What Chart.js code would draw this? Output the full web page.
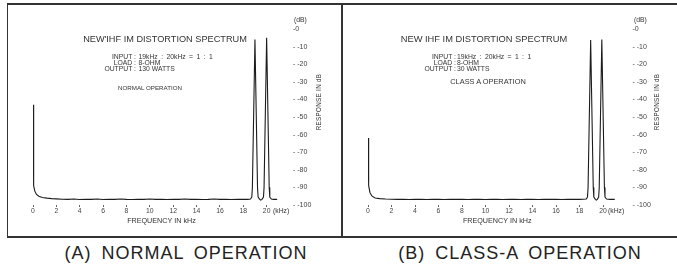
<!DOCTYPE html>
<html><head><meta charset="utf-8">
<script src="https://cdn.jsdelivr.net/npm/chart.js@4.4.0/dist/chart.umd.min.js"></script>
<style>
html,body{margin:0;padding:0;background:#fff;}
#page{position:relative;width:677px;height:267px;overflow:hidden;background:#fff;font-family:"Liberation Sans",Arial,sans-serif;color:#333;}
.ln{position:absolute;background:#333;}
canvas{position:absolute;}
.t{position:absolute;white-space:nowrap;line-height:1;}
.c{transform:translate(-50%,-50%);}
.r{transform:translate(-100%,-50%);text-align:right;}
.l{transform:translate(0,-50%);}
.rot{transform:translate(-50%,-50%) rotate(-90deg);}
</style></head><body>
<div id="page">
  <div class="ln" style="left:7px;top:3px;width:670px;height:1.5px"></div>
  <div class="ln" style="left:7px;top:236px;width:670px;height:1.5px"></div>
  <div class="ln" style="left:6.5px;top:3px;width:1.5px;height:234.5px"></div>
  <div class="ln" style="left:341px;top:3px;width:1.5px;height:234.5px"></div>

  <canvas id="chartA" width="329" height="231" style="left:8px;top:5px"></canvas>
  <canvas id="chartB" width="334" height="231" style="left:343px;top:5px"></canvas>

  <!-- panel A annotations -->
  <div class="t c" style="left:165px;top:40px;font-size:9.2px">NEW'IHF IM DISTORTION SPECTRUM</div>
  <div class="t r" style="left:136px;top:57.3px;font-size:6.8px">INPUT :</div>
  <div class="t r" style="left:136px;top:63.3px;font-size:6.8px">LOAD :</div>
  <div class="t r" style="left:136px;top:69px;font-size:6.8px">OUTPUT :</div>
  <div class="t l" style="left:138.5px;top:57.3px;font-size:6.8px;word-spacing:1.5px">19kHz : 20kHz = 1 : 1</div>
  <div class="t l" style="left:138.5px;top:63.3px;font-size:6.8px">8-OHM</div>
  <div class="t l" style="left:138.5px;top:69px;font-size:6.8px">130 WATTS</div>
  <div class="t c" style="left:150px;top:88px;font-size:6.2px">NORMAL OPERATION</div>
  <div class="t l" style="left:294px;top:20px;font-size:6.8px">(dB)</div>
  <div class="t l" style="left:273px;top:211px;font-size:6.8px">(kHz)</div>
  <div class="t rot" style="left:319px;top:102px;font-size:6.3px;letter-spacing:0.3px">RESPONSE IN dB</div>
  <div class="t c" style="left:186px;top:253px;font-size:18px;color:#222;letter-spacing:1px;word-spacing:4px">(A) NORMAL OPERATION</div>

  <!-- panel B annotations -->
  <div class="t c" style="left:484px;top:40px;font-size:9.3px">NEW IHF IM DISTORTION SPECTRUM</div>
  <div class="t r" style="left:456px;top:57.3px;font-size:6.8px">INPUT :</div>
  <div class="t r" style="left:456px;top:63.3px;font-size:6.8px">LOAD :</div>
  <div class="t r" style="left:456px;top:69px;font-size:6.8px">OUTPUT :</div>
  <div class="t l" style="left:457px;top:57.3px;font-size:6.8px;word-spacing:1.5px">19kHz : 20kHz = 1 : 1</div>
  <div class="t l" style="left:457px;top:63.3px;font-size:6.8px">8-OHM</div>
  <div class="t l" style="left:457px;top:69px;font-size:6.8px">30 WATTS</div>
  <div class="t c" style="left:488px;top:82px;font-size:7.4px">CLASS A OPERATION</div>
  <div class="t l" style="left:634px;top:20px;font-size:6.8px">(dB)</div>
  <div class="t l" style="left:608px;top:211px;font-size:6.8px">(kHz)</div>
  <div class="t rot" style="left:657px;top:102px;font-size:6.3px;letter-spacing:0.3px">RESPONSE IN dB</div>
  <div class="t c" style="left:520px;top:253px;font-size:18px;color:#222;letter-spacing:1px;word-spacing:4px">(B) CLASS-A OPERATION</div>
</div>
<script>
// ---- data ----
const tickKHz = [0, 2, 4, 6, 8, 10, 12, 14, 16, 18, 20];
const tickDB = [0, -10, -20, -30, -40, -50, -60, -70, -80, -90, -100];

// (A) normal operation: frequency in kHz, level in dB
const freqA = [
  0, 0.03, 0.08, 0.15, 0.3, 0.5, 0.8, 1.2, 1.6, 2,
  2.5, 3, 3.5, 4, 4.5, 5, 5.5, 6, 6.5, 7,
  7.5, 8, 8.5, 9, 9.5, 10, 10.5, 11, 11.5, 12,
  12.5, 13, 13.5, 14, 14.5, 15, 15.5, 16, 16.5, 17,
  17.5, 18, 18.4, 18.62, 18.73, 18.78, 19.0, 19.22, 19.27, 19.4,
  19.5, 19.6, 19.73, 19.78, 20.0, 20.22, 20.27, 20.4, 20.6, 20.9
];
const levelA = [
  -43, -82, -89, -92, -94, -95, -95.7, -96.1, -96.4, -96.5,
  -96.7, -96.8, -96.6, -96.9, -96.7, -96.8, -96.6, -96.9, -96.7, -96.8,
  -96.6, -96.8, -96.9, -96.7, -96.8, -96.6, -96.8, -96.7, -96.9, -96.7,
  -96.8, -96.6, -96.8, -96.7, -96.9, -96.8, -96.6, -96.8, -96.7, -96.9,
  -96.8, -96.7, -96.8, -96.6, -95.5, -90, -6, -90, -95.5, -96.8,
  -97.2, -96.8, -95.5, -90, -5, -90, -95.5, -96.6, -96.8, -96.8
];

// (B) class-A operation
const freqB = [
  0, 0.03, 0.08, 0.17, 0.35, 0.6, 1.0, 1.5, 2, 2.5,
  3, 3.5, 4, 4.5, 5, 5.5, 6, 6.5, 7, 7.5,
  8, 8.5, 9, 9.5, 10, 10.5, 11, 11.5, 12, 12.5,
  13, 13.5, 14, 14.5, 15, 15.5, 16, 16.5, 17, 17.5,
  18, 18.3, 18.58, 18.68, 18.73, 18.95, 19.17, 19.22, 19.35, 19.43,
  19.52, 19.63, 19.68, 19.9, 20.12, 20.17, 20.3, 20.6, 21.0
];
const levelB = [
  -62, -84.5, -89, -93, -95, -96, -96.4, -96.6, -96.7, -96.8,
  -96.7, -96.9, -96.8, -96.7, -96.9, -96.8, -96.7, -96.9, -96.8, -96.7,
  -96.8, -96.9, -96.7, -96.8, -96.9, -96.7, -96.8, -96.9, -96.7, -96.8,
  -96.9, -96.7, -96.8, -96.9, -96.8, -96.7, -96.8, -96.9, -96.7, -96.8,
  -96.8, -96.7, -96.6, -95.5, -90, -6.3, -90, -95.5, -96.8, -97.2,
  -96.8, -95.5, -90, -6, -90, -95.5, -96.6, -96.8, -96.8
];

const FONT = '"Liberation Sans", Arial, sans-serif';

function makeChart(id, freq, level, cfg) {
  const pts = freq.map((f, i) => ({ x: f, y: level[i] }));
  return new Chart(document.getElementById(id), {
    type: 'line',
    data: { datasets: [{ data: pts, borderColor: '#1c1c1c', borderWidth: 1.1, pointRadius: 0, tension: 0, fill: false }] },
    options: {
      responsive: false, animation: false, devicePixelRatio: 1,
      layout: { padding: { left: 25, top: 24, right: 0, bottom: 0 } },
      plugins: { legend: { display: false }, tooltip: { enabled: false } },
      scales: {
        x: {
          type: 'linear', min: 0, max: 22, position: 'bottom',
          afterBuildTicks: s => { s.ticks = tickKHz.map(v => ({ value: v })); },
          afterFit: s => { s.height = 31; },
          grid: { display: true, drawOnChartArea: false, drawTicks: true, tickLength: 2, tickColor: '#666', tickWidth: 1 },
          border: { display: false },
          ticks: { font: { family: FONT, size: 6.8 }, color: '#444', padding: 0, maxRotation: 0, autoSkip: false },
          title: { display: true, text: 'FREQUENCY IN kHz', font: { family: FONT, size: 7.2 }, color: '#333', padding: { top: 0, bottom: 10.5 } }
        },
        y: {
          type: 'linear', min: -100, max: 0, position: 'right',
          afterBuildTicks: s => { s.ticks = tickDB.map(v => ({ value: v })); },
          afterFit: s => { s.width = cfg.yW; },
          grid: { display: false, drawTicks: false },
          border: { display: false },
          ticks: { font: { family: FONT, size: 7 }, color: '#444', padding: cfg.yPad,
                   callback: v => (v === 0 ? '-0' : '- ' + v) }
        }
      }
    }
  });
}

makeChart('chartA', freqA, levelA, { yW: 47, yPad: 3 });
makeChart('chartB', freqB, levelB, { yW: 50.5, yPad: 6 });
</script>
</body></html>
